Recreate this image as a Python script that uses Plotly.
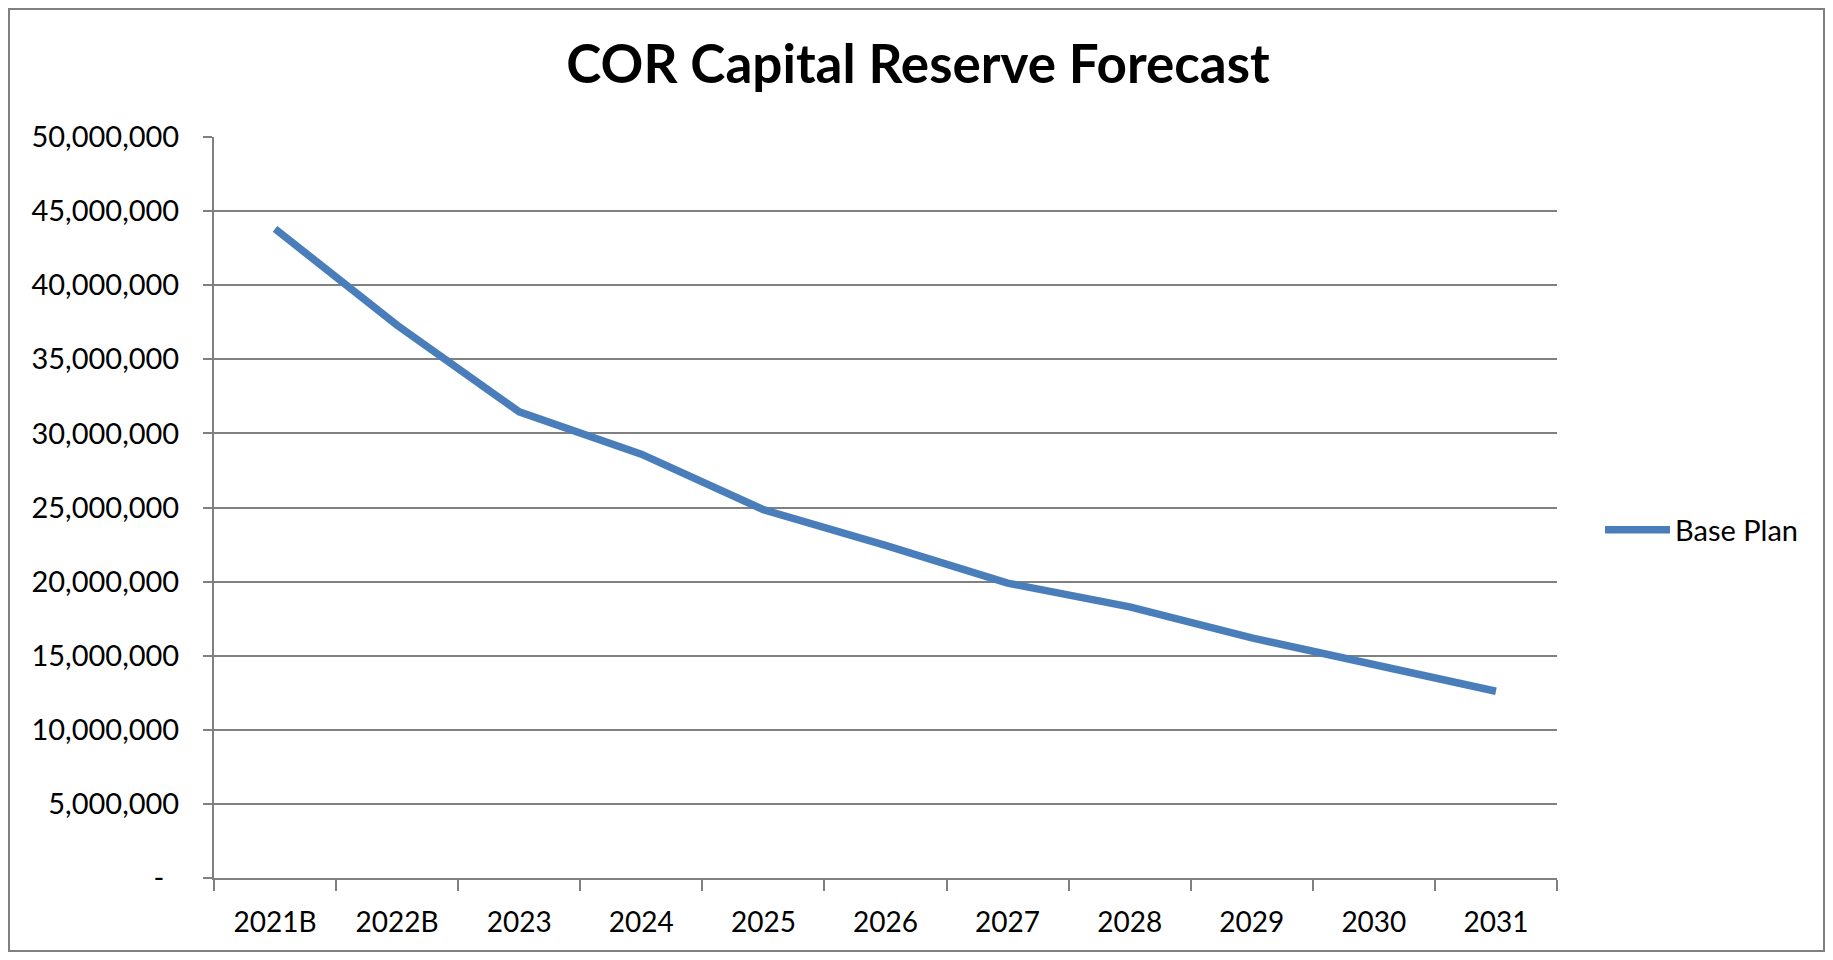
import plotly.graph_objects as go

# ---- data ----
categories = ["2021B", "2022B", "2023", "2024", "2025", "2026", "2027", "2028", "2029", "2030", "2031"]
base_plan = [43800000, 37300000, 31450000, 28600000, 24850000, 22450000, 19900000, 18300000, 16200000, 14450000, 12600000]
y_tick_values = [0, 5000000, 10000000, 15000000, 20000000, 25000000, 30000000, 35000000, 40000000, 45000000, 50000000]
y_tick_labels = ["-\u00a0\u00a0", "5,000,000", "10,000,000", "15,000,000", "20,000,000", "25,000,000",
                 "30,000,000", "35,000,000", "40,000,000", "45,000,000", "50,000,000"]
series_name = "Base Plan"
title_text = "COR Capital Reserve Forecast"

# page has an 8px body margin: figure origin sits at (8, 8) of the screenshot
OFF = 8
W, H = 1833 - 2 * OFF, 960 - 2 * OFF
L = 214 - OFF
T = 137 - OFF
R = W - (1557 - OFF)
B = H - (878 - OFF)
PW, PH = W - L - R, H - T - B

def px_to_paper_x(px):  # px in screenshot coordinates
    return (px - OFF - L) / PW

def px_to_paper_y(py):
    return (H - B - (py - OFF)) / PH

GRID = "#808080"
FONT = "Lato"

fig = go.Figure()
fig.add_trace(go.Scatter(
    x=categories, y=base_plan, mode="lines", name=series_name,
    line=dict(color="#4A7EBB", width=7.5),
))

fig.update_layout(
    width=W, height=H,
    margin=dict(l=L, r=R, t=T, b=B),
    paper_bgcolor="white", plot_bgcolor="white",
    title=dict(text=f"<b>{title_text}</b>", x=(918 - OFF) / W, xref="container", xanchor="center",
               y=1 - (64 - OFF) / H, yref="container", yanchor="middle",
               font=dict(family=FONT, size=53, color="#000000")),
    font=dict(family=FONT, size=29, color="#000000"),
    showlegend=True,
    legend=dict(x=px_to_paper_x(1600), y=px_to_paper_y(530), xanchor="left", yanchor="middle",
                itemwidth=65,
                font=dict(family=FONT, size=29, color="#000000"), bgcolor="rgba(0,0,0,0)"),
    shapes=[dict(type="rect", xref="paper", yref="paper",
                 x0=px_to_paper_x(OFF + 1), x1=px_to_paper_x(OFF + W - 1),
                 y0=px_to_paper_y(OFF + H - 1), y1=px_to_paper_y(OFF + 1),
                 line=dict(color=GRID, width=2), layer="below")],
)

fig.update_xaxes(
    type="category", range=[-0.5, len(categories) - 0.5],
    showgrid=False, showline=True, linecolor=GRID, linewidth=2,
    ticks="outside", tickson="boundaries", ticklen=11, tickwidth=2, tickcolor=GRID,
    tickfont=dict(family=FONT, size=28, color="#000000"), ticklabelstandoff=18,
)
fig.update_yaxes(
    range=[0, 50000000], tickvals=y_tick_values, ticktext=y_tick_labels,
    showgrid=True, gridcolor=GRID, gridwidth=2,
    showline=True, linecolor=GRID, linewidth=2,
    ticks="outside", ticklen=9, tickwidth=2, tickcolor=GRID,
    tickfont=dict(family=FONT, size=29, color="#000000"), ticklabelstandoff=18,
    zeroline=False,
)

fig.write_html("out.html")
